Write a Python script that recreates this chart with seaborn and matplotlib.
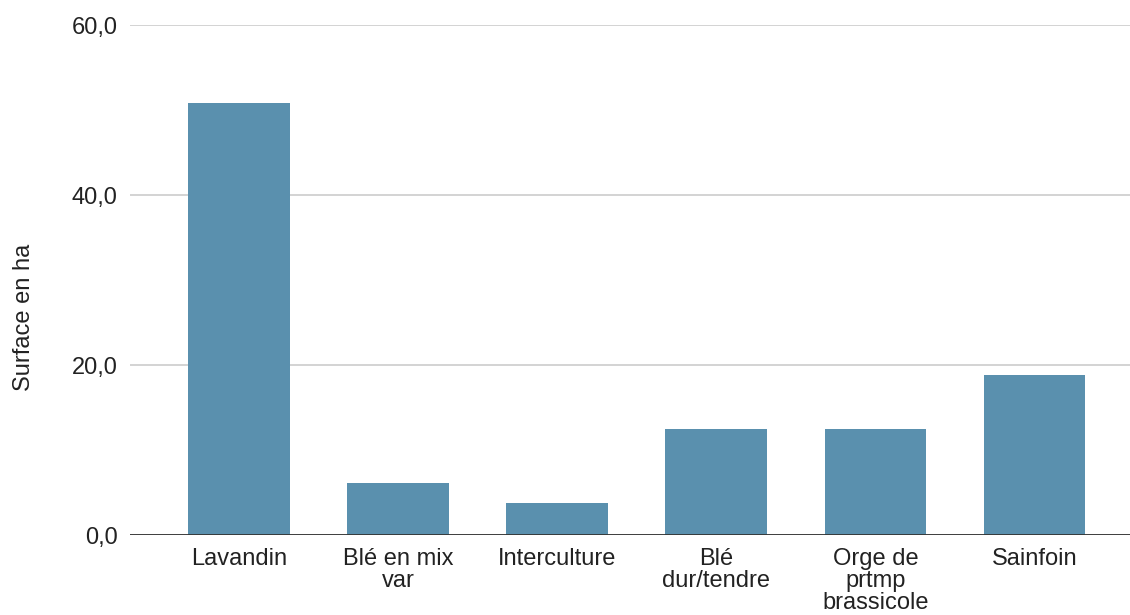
import matplotlib
matplotlib.use("Agg")
import matplotlib.pyplot as plt
import seaborn as sns

categories = ["Lavandin", "Blé en mix\nvar", "Interculture", "Blé\ndur/tendre",
              "Orge de\nprtmp\nbrassicole", "Sainfoin"]
surface_ha = [50.8, 6.1, 3.8, 12.5, 12.5, 18.8]
y_ticks = [0, 20, 40, 60]
y_tick_labels = ["0,0", "20,0", "40,0", "60,0"]

sns.set_theme(style="white")
plt.rcParams["font.family"] = ["Liberation Sans", "DejaVu Sans"]

fig = plt.figure(figsize=(11.3, 6.15), dpi=100)
ax = fig.add_axes([0.115, 0.13, 0.885, 0.829])

sns.barplot(x=categories, y=surface_ha, color="#5a90ae", saturation=1,
            width=0.64, ax=ax, zorder=3, linewidth=0)

ax.set_ylim(0, 60)
ax.set_xlim(-0.686, 5.60)
ax.set_yticks(y_ticks)
ax.set_yticklabels(y_tick_labels, fontsize=17, color="#222222")
ax.tick_params(axis="x", labelsize=17, labelcolor="#222222", length=0, pad=9)
ax.tick_params(axis="y", length=0, pad=9)
ax.yaxis.grid(True, color="#cccccc", linewidth=1.2, zorder=0)
ax.axhline(0, color="#333333", linewidth=1.3, zorder=4)
for s in ax.spines.values():
    s.set_visible(False)

for lbl in ax.get_xticklabels():
    lbl.set_linespacing(1.0)

ax.set_ylabel("Surface en ha", fontsize=17, color="#222222")
ax.yaxis.set_label_coords(-0.095, 0.427)

fig.savefig("out.png", dpi=100)
